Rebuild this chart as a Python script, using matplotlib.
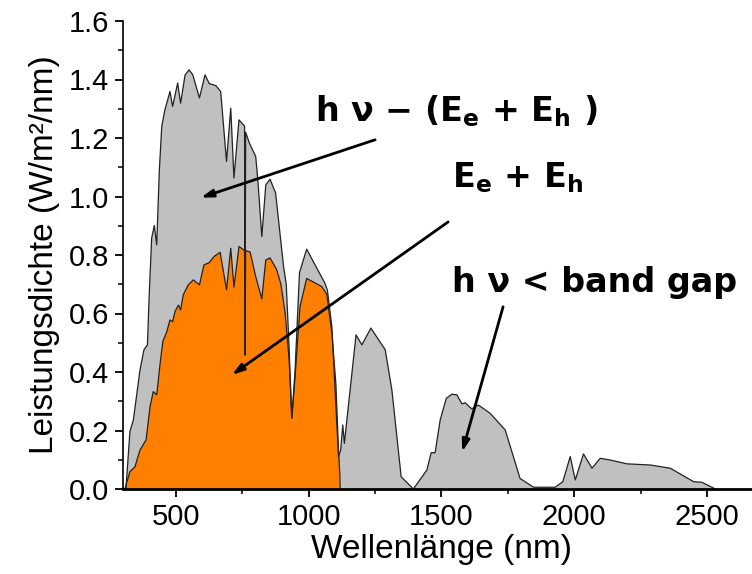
import matplotlib
matplotlib.use("Agg")
import matplotlib.pyplot as plt
from matplotlib.ticker import MultipleLocator, FormatStrFormatter

# Total solar spectrum (grey area)
wl_total = [300, 311, 326, 339, 364, 379, 392, 399, 408, 418, 427, 437, 446, 458, 477,
            487, 506, 517, 534, 549, 563, 588, 609, 625, 650, 668, 690, 706, 718, 737,
            754, 758, 760, 762, 776, 800, 808, 823, 838, 854, 875, 892, 905, 915, 925,
            936, 948, 965, 992, 1061, 1070, 1087, 1099, 1112, 1120, 1128, 1134, 1178,
            1200, 1234, 1288, 1313, 1348, 1394, 1445, 1461, 1476, 1495, 1518, 1539,
            1558, 1577, 1589, 1614, 1639, 1683, 1740, 1796, 1847, 1928, 1957, 1985,
            2004, 2035, 2067, 2098, 2136, 2199, 2287, 2362, 2450, 2481, 2532]
p_total = [0.0, 0.0, 0.196, 0.236, 0.407, 0.476, 0.493, 0.669, 0.858, 0.901, 0.835, 1.091,
           1.24, 1.297, 1.359, 1.308, 1.388, 1.319, 1.416, 1.433, 1.416, 1.337, 1.416,
           1.386, 1.379, 1.359, 1.12, 1.302, 1.063, 1.262, 1.245, 1.24, 0.458, 1.22,
           1.183, 1.137, 1.057, 0.863, 1.04, 1.059, 1.012, 0.869, 0.76, 0.70, 0.50,
           0.242, 0.40, 0.74, 0.82, 0.703, 0.68, 0.555, 0.339, 0.11, 0.133, 0.219,
           0.156, 0.527, 0.493, 0.55, 0.476, 0.339, 0.042, 0.0, 0.065, 0.124, 0.124,
           0.236, 0.31, 0.324, 0.322, 0.291, 0.295, 0.274, 0.287, 0.259, 0.202, 0.036,
           0.006, 0.006, 0.025, 0.111, 0.031, 0.12, 0.071, 0.105, 0.099, 0.086, 0.082,
           0.071, 0.025, 0.023, 0.0]

# Usable part E_e + E_h (orange area)
wl_used = [307, 326, 345, 364, 387, 402, 414, 427, 440, 450, 465, 477, 487, 496, 509,
           517, 527, 546, 565, 588, 605, 625, 643, 666, 690, 706, 718, 737, 754, 758,
           760, 762, 779, 800, 823, 838, 854, 879, 895, 911, 926, 936, 948, 967, 992,
           1049, 1068, 1087, 1102, 1112, 1117, 1118]
p_used = [0.0, 0.059, 0.076, 0.133, 0.168, 0.282, 0.333, 0.322, 0.43, 0.504, 0.538,
          0.578, 0.572, 0.607, 0.629, 0.612, 0.664, 0.698, 0.715, 0.698, 0.766, 0.774,
          0.795, 0.809, 0.681, 0.823, 0.69, 0.829, 0.818, 0.815, 0.458, 0.815, 0.81,
          0.726, 0.65, 0.783, 0.79, 0.75, 0.70, 0.60, 0.44, 0.242, 0.38, 0.624, 0.72,
          0.692, 0.665, 0.532, 0.361, 0.133, 0.05, 0.0]

x_ticks = [500, 1000, 1500, 2000, 2500]
y_ticks = [0.0, 0.2, 0.4, 0.6, 0.8, 1.0, 1.2, 1.4, 1.6]

x_label = "Wellenlänge (nm)"
y_label = "Leistungsdichte (W/m²/nm)"

label1 = r"h ν − (E$_\mathbf{e}$ + E$_\mathbf{h}$ )"
label2 = r"E$_\mathbf{e}$ + E$_\mathbf{h}$"
label3 = "h ν < band gap"

plt.rcParams['mathtext.fontset'] = 'dejavusans'

fig = plt.figure(figsize=(7.52, 5.74), dpi=100)
ax = fig.add_axes([123/752, 85/574, 637/752, 468/574])

ax.fill_between(wl_total, p_total, 0, facecolor='#C0C0C0', edgecolor='none')
ax.plot(wl_total, p_total, color='#222222', lw=0.9)
ax.fill_between(wl_used, p_used, 0, facecolor='#FF8000', edgecolor='none')
ax.plot(wl_used, p_used, color='#222222', lw=0.9)

ax.set_xlim(300, 2700)
ax.set_ylim(0, 1.6)
ax.set_xticks(x_ticks)
ax.set_yticks(y_ticks)
ax.xaxis.set_minor_locator(MultipleLocator(250))
ax.yaxis.set_minor_locator(MultipleLocator(0.1))
ax.yaxis.set_major_formatter(FormatStrFormatter('%.1f'))

for s in ['top', 'right']:
    ax.spines[s].set_visible(False)
ax.spines['left'].set_linewidth(1.2)
ax.spines['bottom'].set_linewidth(2.0)

ax.tick_params(which='major', direction='out', length=6, width=1.3, labelsize=21, pad=4)
ax.tick_params(which='minor', direction='out', length=3.5, width=1.1)
for lab in ax.get_xticklabels() + ax.get_yticklabels():
    lab.set_family('Liberation Sans')

ax.set_xlabel(x_label, fontsize=24, family='Liberation Sans', labelpad=2)
ax.set_ylabel(y_label, fontsize=24, family='Liberation Sans', labelpad=6)

arrow = dict(arrowstyle='-|>,head_length=0.7,head_width=0.22', lw=2, color='black',
             shrinkA=0, shrinkB=0)
ax.annotate('', xy=(593, 0.996), xytext=(1250, 1.194), arrowprops=arrow)
ax.annotate('', xy=(710, 0.39), xytext=(1525, 0.913), arrowprops=arrow)
ax.annotate('', xy=(1578, 0.127), xytext=(1732, 0.623), arrowprops=arrow)

tkw = dict(fontsize=24, fontweight='bold', family='DejaVu Sans', ha='left', va='baseline')
ax.text(1024, 1.256, label1, **tkw)
ax.text(1540, 1.03, label2, **tkw)
ax.text(1540, 0.674, label3, **tkw)

fig.savefig('out.png', dpi=100)
